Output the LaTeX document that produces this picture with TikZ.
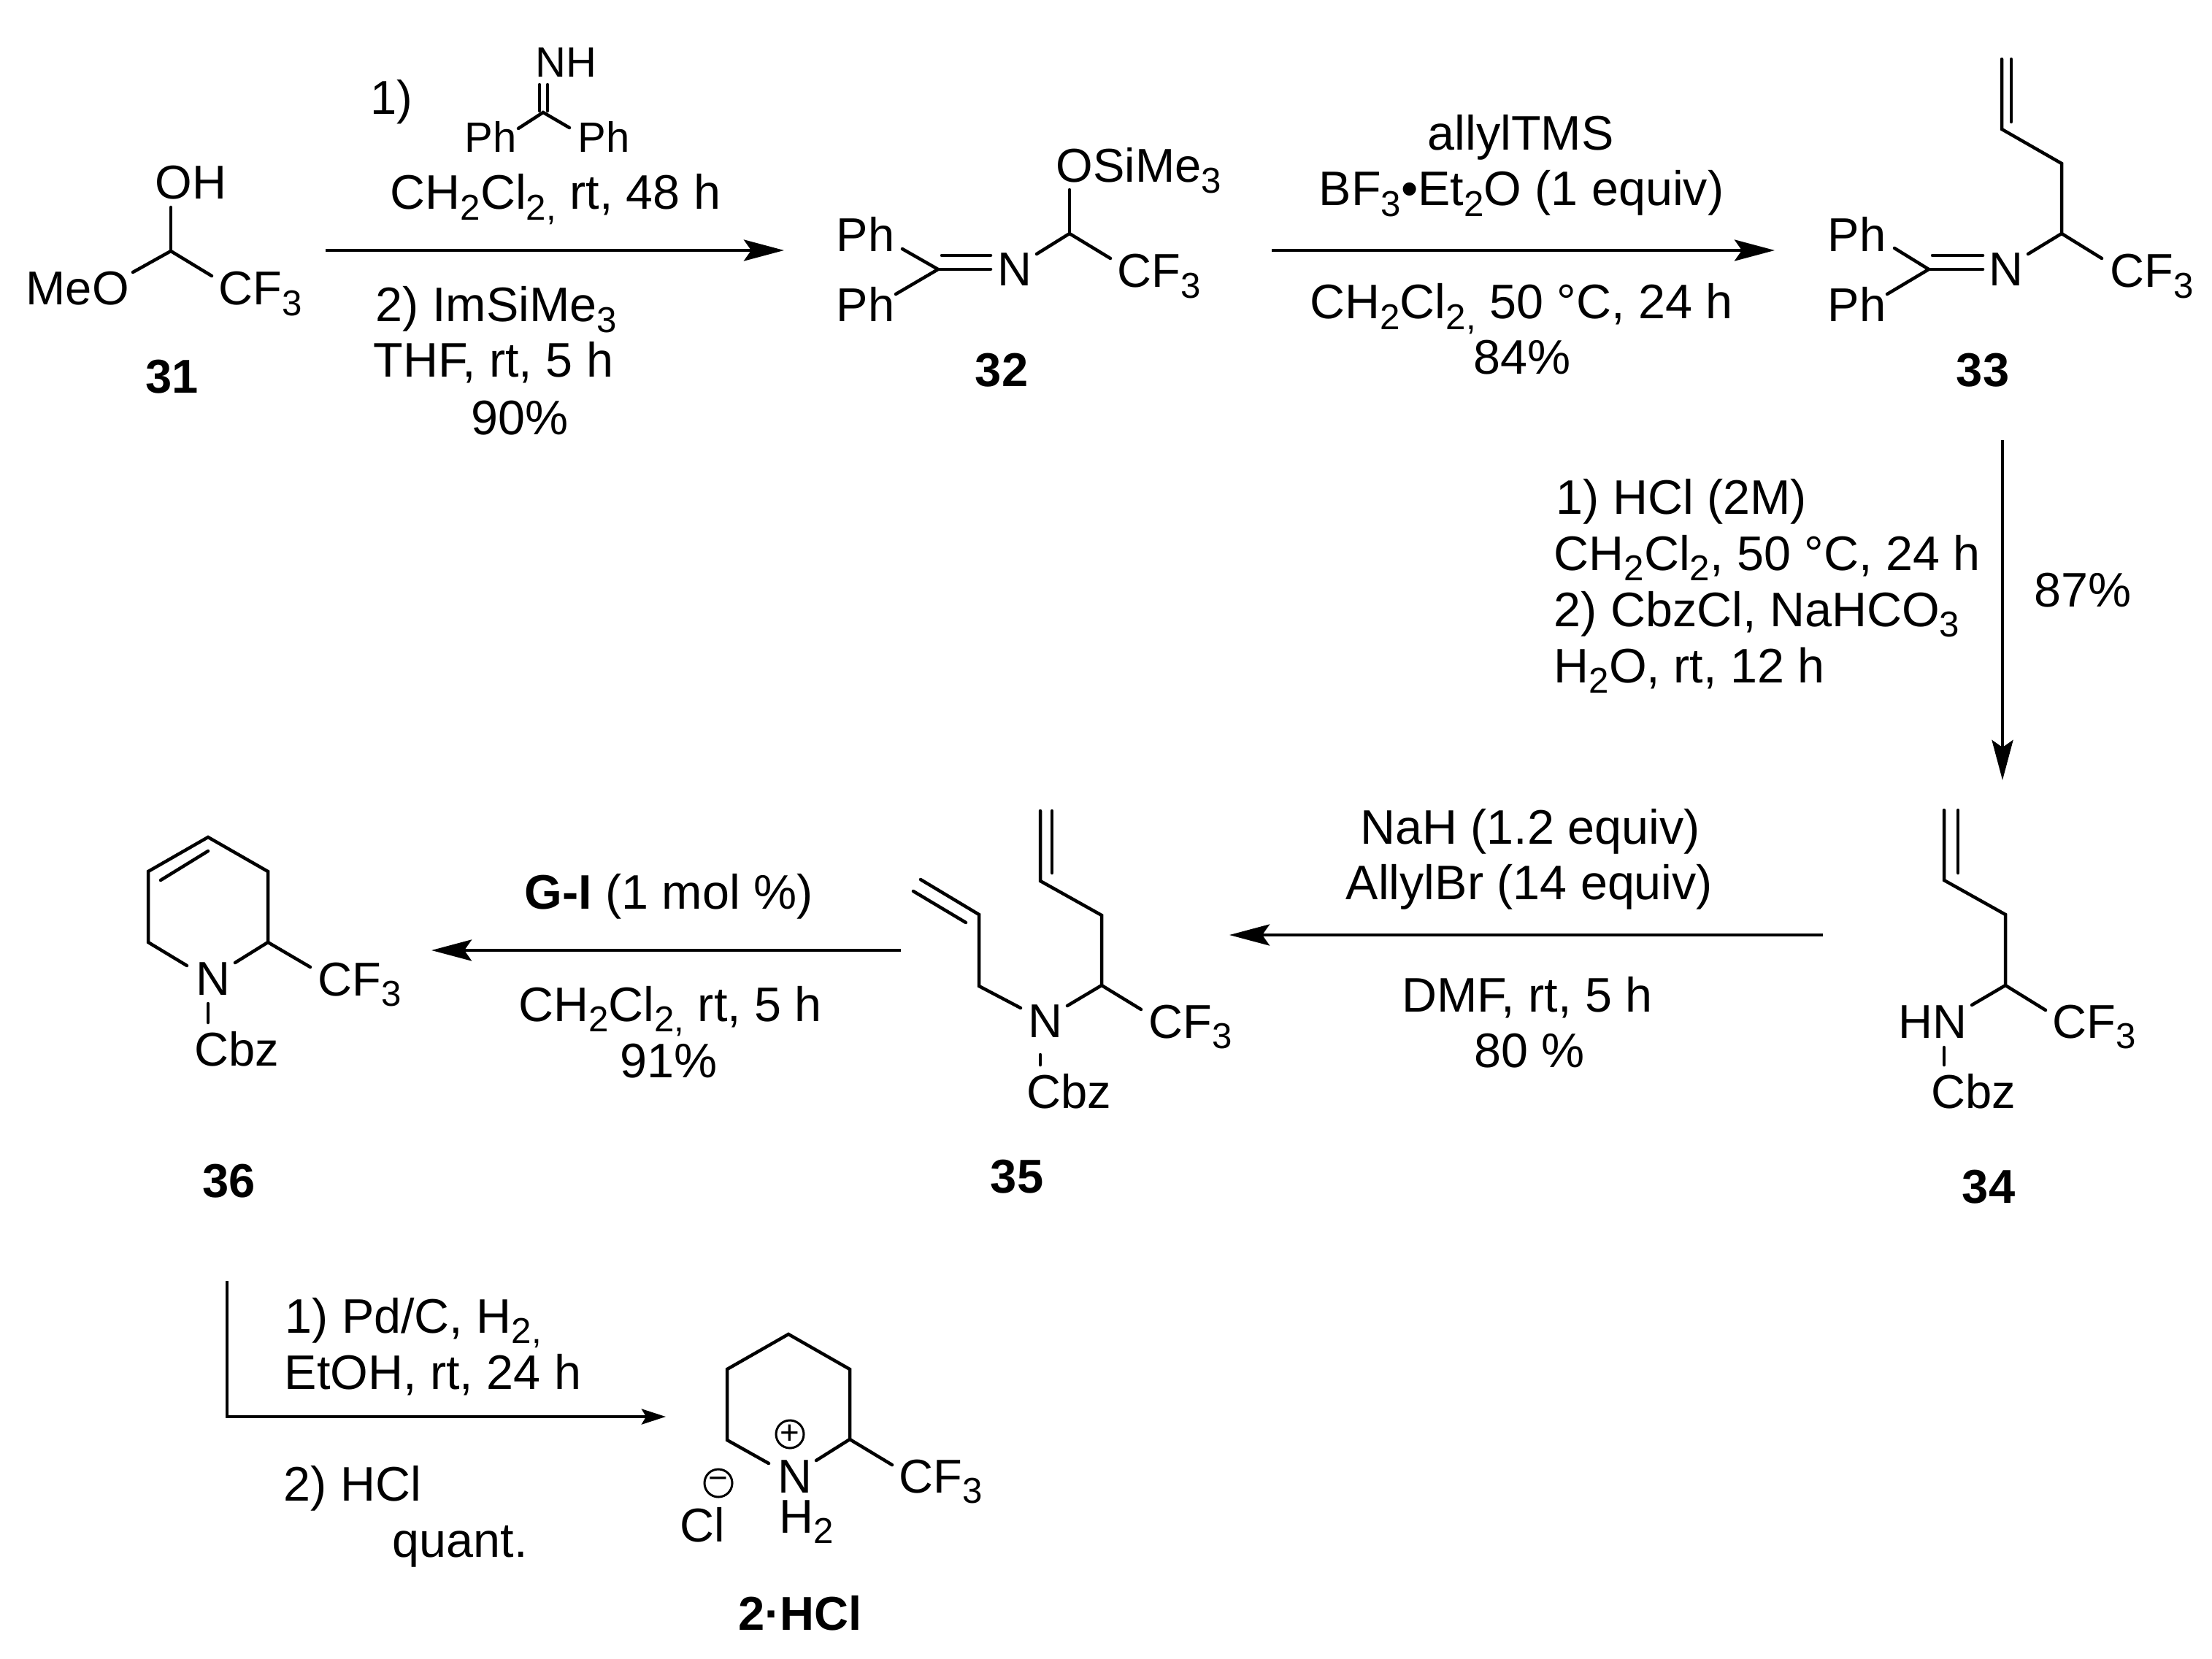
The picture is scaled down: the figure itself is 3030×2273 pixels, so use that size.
\documentclass[tikz,border=0pt]{standalone}
\usepackage{fontspec}
\setmainfont{Liberation Sans}
\usetikzlibrary{arrows.meta}
\newcommand{\sbs}[1]{\raisebox{-0.14cm}{\fontsize{14}{16}\selectfont #1}}
\tikzstyle{atom} = [anchor=base west, inner sep=0pt, font=\fontsize{18.5}{22}\selectfont]
\tikzstyle{atomsm} = [anchor=base west, inner sep=0pt, font=\fontsize{16.5}{19}\selectfont]
\tikzstyle{cond} = [anchor=base, inner sep=0pt, font=\fontsize{18.9}{22}\selectfont]
\tikzstyle{condl} = [anchor=base west, inner sep=0pt, font=\fontsize{18.9}{22}\selectfont]
\tikzstyle{cpd} = [anchor=base, inner sep=0pt, font=\fontsize{18.5}{22}\selectfont\bfseries]
\tikzstyle{bond} = [line width=0.045cm, line cap=round, line join=miter]
\tikzstyle{rxn} = [line width=0.045cm, -{Stealth[length=0.55cm, width=0.29cm, inset=0.1cm]}]
\tikzstyle{rxnsm} = [line width=0.045cm, -{Stealth[length=0.33cm, width=0.21cm, inset=0.06cm]}]
\tikzstyle{charge} = [circle, draw, line width=0.03cm, minimum size=0.38cm, inner sep=0pt, font=\fontsize{13}{13}\selectfont]

\begin{document}
\begin{tikzpicture}[x=0.01cm, y=-0.01cm]
    \useasboundingbox (0,0) rectangle (3030,2273);

    % Compound 31
    \node (oh31) [atom] at (212,273) {OH};
    \node (meo31) [atom] at (35,418) {MeO};
    \node (cf31) [atom] at (299,418) {CF\sbs{3}};
    \node (lab31) [cpd] at (236,538) {31};
    \coordinate (c31) at (234,344);
    \draw [bond] (234,284) coordinate (e31a) -- (c31);
    \draw [bond] (182,373) coordinate (e31b) -- (c31) -- (290,378) coordinate (e31c);

    % Step 1
    \coordinate (a1s) at (446,343);
    \coordinate (a1e) at (1074,343);
    \draw [rxn] (a1s) -- (a1e);
    \node (r1a) [atom] at (507,157) {1)};
    \node (nh1) [atomsm] at (733,106) {NH};
    \node (ph1a) [atomsm] at (636,209) {Ph};
    \node (ph1b) [atomsm] at (791,209) {Ph};
    \coordinate (c1) at (744,154);
    \draw [bond] (739,116) -- (739,152);
    \draw [bond] (750,116) -- (750,152);
    \draw [bond] (710,176) -- (c1) -- (780,175);
    \node (r1b) [cond] at (761,287) {CH\sbs{2}Cl\sbs{2,} rt, 48 h};
    \node (r1c) [cond] at (680,441) {2) ImSiMe\sbs{3}};
    \node (r1d) [cond] at (676,517) {THF, rt, 5 h};
    \node (r1e) [cond] at (712,595) {90\%};

    % Compound 32
    \node (ph32a) [atom] at (1145,345) {Ph};
    \node (ph32b) [atom] at (1145,441) {Ph};
    \node (n32) [atom] at (1366,392) {N};
    \node (osi32) [atom] at (1446,250) {OSiMe\sbs{3}};
    \node (cf32) [atom] at (1530,394) {CF\sbs{3}};
    \node (lab32) [cpd] at (1372,530) {32};
    \coordinate (c32a) at (1285,369);
    \coordinate (c32b) at (1465,320);
    \draw [bond] (1236,341) -- (c32a) -- (1227,403);
    \draw [bond] (c32a) -- (1357,369);
    \draw [bond] (1290,350) -- (1357,350);
    \draw [bond] (1420,348) -- (c32b) -- (1521,354);
    \draw [bond] (c32b) -- (1465,260);

    % Step 2
    \coordinate (a2s) at (1742,343);
    \coordinate (a2e) at (2431,343);
    \draw [rxn] (a2s) -- (a2e);
    \node (r2a) [cond] at (2083,206) {allylTMS};
    \node (r2b) [cond] at (2084,282) {BF\sbs{3}•Et\sbs{2}O (1 equiv)};
    \node (r2c) [cond] at (2084,437) {CH\sbs{2}Cl\sbs{2,} 50 °C, 24 h};
    \node (r2d) [cond] at (2085,513) {84\%};

    % Compound 33
    \node (ph33a) [atom] at (2503,345) {Ph};
    \node (ph33b) [atom] at (2503,441) {Ph};
    \node (n33) [atom] at (2724,392) {N};
    \node (cf33) [atom] at (2890,394) {CF\sbs{3}};
    \node (lab33) [cpd] at (2716,530) {33};
    \coordinate (c33a) at (2642,369);
    \coordinate (c33b) at (2824,320);
    \draw [bond] (2595,340) -- (c33a) -- (2585,403);
    \draw [bond] (c33a) -- (2716,369);
    \draw [bond] (2647,350) -- (2716,350);
    \draw [bond] (2778,348) -- (c33b) -- (2879,354);
    \draw [bond] (c33b) -- (2824,224) -- (2742,177) -- (2742,81);
    \draw [bond] (2755,167) -- (2755,81);

    % Step 3
    \coordinate (a3s) at (2743,603);
    \coordinate (a3e) at (2743,1069);
    \draw [rxn] (a3s) -- (a3e);
    \node (r3a) [condl] at (2131,704) {1) HCl (2M)};
    \node (r3b) [condl] at (2128,781) {CH\sbs{2}Cl\sbs{2}, 50 °C, 24 h};
    \node (r3c) [condl] at (2128,858) {2) CbzCl, NaHCO\sbs{3}};
    \node (r3d) [condl] at (2128,935) {H\sbs{2}O, rt, 12 h};
    \node (r3e) [cond] at (2853,831) {87\%};

    % Compound 34
    \node (hn34) [atom] at (2600,1422) {HN};
    \node (cf34) [atom] at (2811,1422) {CF\sbs{3}};
    \node (cbz34) [atom] at (2645,1518) {Cbz};
    \node (lab34) [cpd] at (2724,1648) {34};
    \coordinate (c34) at (2747,1350);
    \draw [bond] (2663,1110) -- (2663,1206) -- (2747,1253) -- (c34) -- (2802,1384);
    \draw [bond] (2682,1110) -- (2682,1196);
    \draw [bond] (c34) -- (2701,1377);
    \draw [bond] (2663,1435) -- (2663,1459);

    % Step 4
    \coordinate (a4s) at (2497,1281);
    \coordinate (a4e) at (1684,1281);
    \draw [rxn] (a4s) -- (a4e);
    \node (r4a) [cond] at (2096,1156) {NaH (1.2 equiv)};
    \node (r4b) [cond] at (2095,1232) {AllylBr (14 equiv)};
    \node (r4c) [cond] at (2092,1386) {DMF, rt, 5 h};
    \node (r4d) [cond] at (2095,1462) {80 \%};

    % Compound 35
    \node (n35) [atom] at (1408,1421) {N};
    \node (cf35) [atom] at (1573,1422) {CF\sbs{3}};
    \node (cbz35) [atom] at (1406,1518) {Cbz};
    \node (lab35) [cpd] at (1393,1634) {35};
    \coordinate (c35) at (1509,1350);
    \draw [bond] (1261,1205) -- (1341,1253) -- (1341,1351) -- (1398,1381);
    \draw [bond] (1251,1221) -- (1323,1264);
    \draw [bond] (1462,1378) -- (c35) -- (1563,1383);
    \draw [bond] (c35) -- (1509,1254) -- (1425,1207) -- (1425,1111);
    \draw [bond] (1441,1196) -- (1441,1111);
    \draw [bond] (1425,1445) -- (1425,1459);

    % Step 5
    \coordinate (a5s) at (1234,1302);
    \coordinate (a5e) at (591,1302);
    \draw [rxn] (a5s) -- (a5e);
    \node (r5a) [cond] at (916,1245) {\textbf{G-I} (1 mol \%)};
    \node (r5b) [cond] at (918,1399) {CH\sbs{2}Cl\sbs{2,} rt, 5 h};
    \node (r5c) [cond] at (916,1476) {91\%};

    % Compound 36
    \node (n36) [atom] at (268,1363) {N};
    \node (cf36) [atom] at (435,1364) {CF\sbs{3}};
    \node (cbz36) [atom] at (266,1460) {Cbz};
    \node (lab36) [cpd] at (314,1640) {36};
    \coordinate (c36) at (367,1291);
    \draw [bond] (256,1323) -- (203,1291) -- (203,1194) -- (285,1147) -- (367,1194) -- (c36) -- (322,1319);
    \draw [bond] (c36) -- (425,1325);
    \draw [bond] (285,1166) -- (220,1206);
    \draw [bond] (285,1375) -- (285,1401);

    % Step 6
    \coordinate (a6s) at (311,1755);
    \coordinate (a6c) at (311,1941);
    \coordinate (a6e) at (912,1941);
    \draw [rxnsm] (a6s) -- (a6c) -- (a6e);
    \node (r6a) [condl] at (390,1826) {1) Pd/C, H\sbs{2,}};
    \node (r6b) [condl] at (389,1903) {EtOH, rt, 24 h};
    \node (r6c) [condl] at (388,2056) {2) HCl};
    \node (r6d) [condl] at (537,2133) {quant.};

    % Compound 2.HCl
    \node (n2) [atom] at (1065,2045) {N};
    \node (h2) [atom] at (1067,2100) {H\sbs{2}};
    \node (cf2) [atom] at (1231,2045) {CF\sbs{3}};
    \node (cl2) [atom] at (931,2112) {Cl};
    \node (plus2) [charge] at (1082,1965) {+};
    \node (minus2) [charge] at (984,2032) {−};
    \node (lab2) [cpd] at (1096,2233) {2·HCl};
    \coordinate (c2) at (1164,1972);
    \draw [bond] (1053,2005) -- (996,1973) -- (996,1876) -- (1080,1828) -- (1164,1876) -- (c2) -- (1118,2001);
    \draw [bond] (c2) -- (1222,2007);
\end{tikzpicture}
\end{document}
